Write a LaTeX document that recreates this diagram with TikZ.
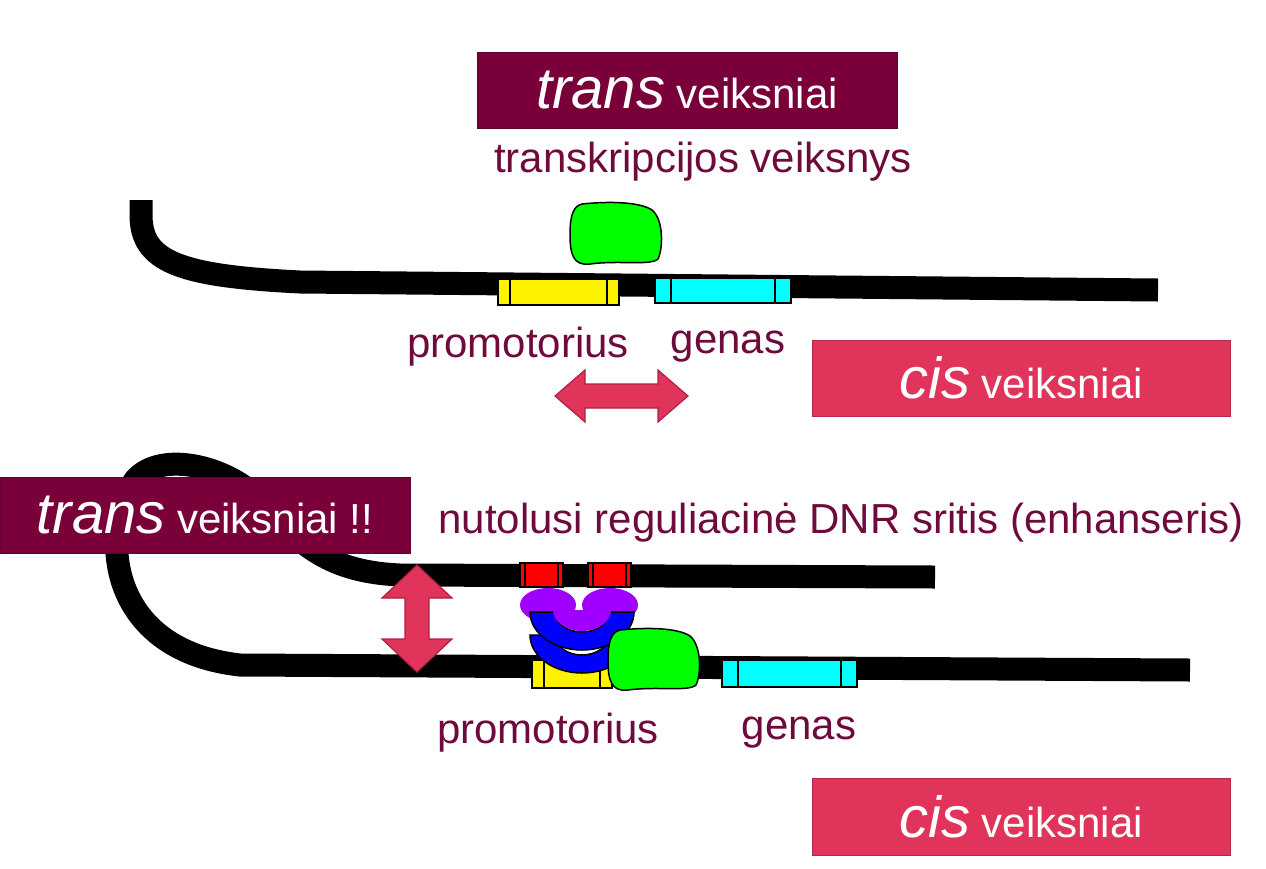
\documentclass[tikz,border=0pt]{standalone}
\usepackage{fontspec}
\setmainfont{Liberation Sans}
\definecolor{maroon}{HTML}{7A0039}
\definecolor{rose}{HTML}{E0345A}
\definecolor{roseline}{HTML}{B02040}
\definecolor{txt}{HTML}{6E0A3C}
\definecolor{aqua}{HTML}{00FFFF}
\definecolor{lilac}{HTML}{A000FF}
\tikzset{
dna/.style={line width=23pt, black},
box/.style={draw=black, line width=1.5pt},
lbl/.style={text=txt, font=\fontsize{42}{46}\selectfont, inner sep=0pt},
tag/.style={draw=#1!80!black, fill=#1, text=white, inner sep=0pt, font=\fontsize{42}{46}\selectfont},
arr/.style={fill=rose, draw=roseline, line width=1.2pt}
}
\newcommand{\elem}[6]{% x1 y1 x2 y2 colour inset
\filldraw[box, fill=#5] (#1,#2) rectangle (#3,#4);
\draw[box] (#1+#6,#2) -- (#1+#6,#4) (#3-#6,#2) -- (#3-#6,#4);
}
\newcommand{\factor}[2]{% green blob, top-left corner
\filldraw[box, fill=green, shift={(#1,#2)}] (12,0) .. controls (40,-3) and (70,-2) .. (82,6)
 .. controls (94,16) and (93,45) .. (88,55) .. controls (80,62) and (50,56) .. (20,60)
 .. controls (3,62) and (0,50) .. (0,30) .. controls (0,10) and (4,2) .. (12,0) -- cycle;
}
\newcommand{\tagtext}[2]{{\fontsize{58}{60}\selectfont\itshape #1}\ #2}
\begin{document}
\begin{tikzpicture}[x=1pt,y=-1pt]
\useasboundingbox (0,0) rectangle (1266,868);
% upper part
\node[tag=maroon, minimum width=420pt, minimum height=76pt] (trans1) at (687,90) {\tagtext{trans}{veiksniai}};
\node[lbl] (tf) at (703,162) {transkripcijos veiksnys};
\draw[dna] (141,200) -- (141,215) .. controls (141,262) and (180,276) .. (300,282) -- (1158,290);
\elem{498}{279}{619}{305}{yellow}{12}
\elem{655}{278}{791}{303}{aqua}{16}
\factor{570}{204}
\node[lbl] (prom1) at (518,347) {promotorius};
\node[lbl] (gen1) at (728,347) {genas};
\filldraw[arr] (555,396) -- (585,370) -- (585,384) -- (658,384) -- (658,370) -- (688,396)
 -- (658,422) -- (658,408) -- (585,408) -- (585,422) -- cycle;
\node[tag=rose, minimum width=418pt, minimum height=76pt] (cis1) at (1021,378) {\tagtext{cis}{veiksniai}};
% lower part
\draw[dna] (935,577) -- (400,575) .. controls (330,572) and (300,545) .. (265,505)
 .. controls (230,465) and (160,450) .. (135,480) .. controls (100,530) and (105,650) .. (240,665) -- (1190,670);
\node[tag=maroon, minimum width=410pt, minimum height=76pt] (trans2) at (205,515) {\tagtext{trans}{veiksniai !!}};
\node[lbl] (enh) at (841,523) {nutolusi reguliacinė DNR sritis (enhanseris)};
\elem{520}{563}{563}{587}{red}{5}
\elem{588}{563}{631}{587}{red}{5}
\elem{532}{660}{612}{688}{yellow}{12}
\elem{722}{660}{857}{687}{aqua}{16}
\fill[lilac] (548,605) ellipse[x radius=28, y radius=17] (610,605) ellipse[x radius=28, y radius=17];
\foreach \dy in {23,0}
 \filldraw[box, fill=blue, shift={(0,\dy)}] (530,612) -- (555,612) arc[start angle=180, end angle=0, x radius=27, y radius=20]
  -- (634,612) arc[start angle=0, end angle=180, x radius=52, y radius=38] -- cycle;
\fill[lilac] (553,610) arc[start angle=180, end angle=0, x radius=29, y radius=21] -- cycle;
\factor{608}{630}
\filldraw[arr] (417,565) -- (452,598) -- (429,598) -- (429,639) -- (452,639) -- (417,672)
 -- (382,639) -- (405,639) -- (405,598) -- (382,598) -- cycle;
\node[lbl] (prom2) at (548,733) {promotorius};
\node[lbl] (gen2) at (799,733) {genas};
\node[tag=rose, minimum width=418pt, minimum height=77pt] (cis2) at (1021,817) {\tagtext{cis}{veiksniai}};
\end{tikzpicture}
\end{document}
